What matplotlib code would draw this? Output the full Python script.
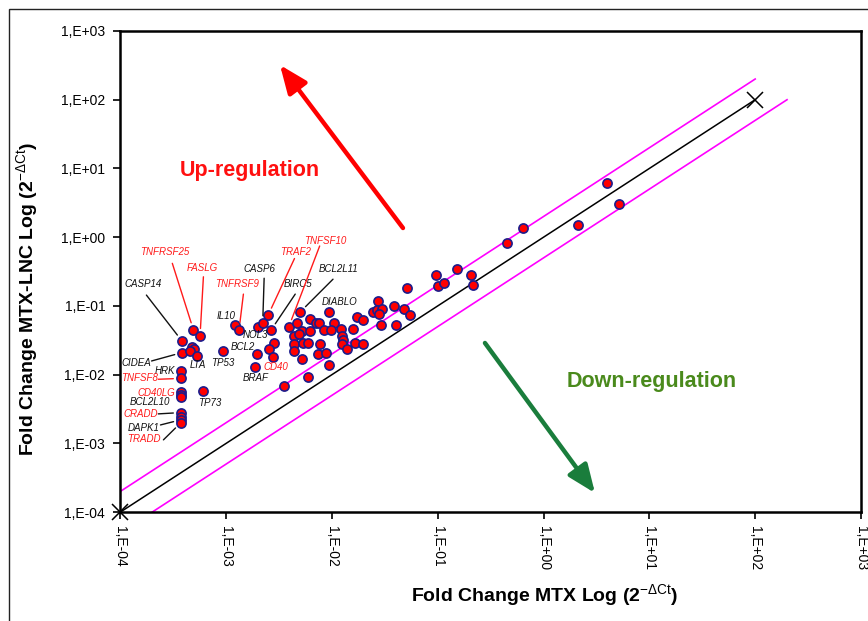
import numpy as np
import matplotlib
matplotlib.use('Agg')
import matplotlib.pyplot as plt
from matplotlib.ticker import FixedLocator, FuncFormatter, NullLocator
from matplotlib.patches import Rectangle

plt.rcParams['font.family'] = ['Liberation Sans', 'DejaVu Sans']
plt.rcParams['mathtext.fontset'] = 'custom'
plt.rcParams['mathtext.rm'] = 'Liberation Sans'
plt.rcParams['mathtext.it'] = 'Liberation Sans:italic'
plt.rcParams['mathtext.bf'] = 'Liberation Sans:bold'

# fold change (2^-dCt) per gene: MTX alone vs MTX-LNC
fc_mtx = [
    3.82e-4, 3.82e-4, 4.90e-4, 5.65e-4, 4.72e-4, 4.96e-4, 4.50e-4, 5.26e-4,
    3.73e-4, 3.73e-4, 3.73e-4, 3.73e-4, 3.73e-4, 3.73e-4, 3.73e-4, 3.73e-4,
    3.73e-4, 6.03e-4, 9.23e-4, 1.21e-3, 1.32e-3, 1.98e-3, 2.21e-3, 2.49e-3,
    2.65e-3, 2.83e-3, 2.54e-3, 2.75e-3, 1.94e-3, 1.87e-3, 3.52e-3, 3.90e-3,
    4.65e-3, 4.99e-3, 6.21e-3, 7.07e-3, 7.60e-3, 9.39e-3, 1.05e-2, 8.48e-3,
    9.81e-3, 5.16e-3, 6.21e-3, 4.38e-3, 4.83e-3, 4.33e-3, 4.38e-3, 5.36e-3,
    5.98e-3, 7.62e-3, 7.34e-3, 8.74e-3, 5.17e-3, 9.39e-3, 5.94e-3, 1.21e-2,
    1.24e-2, 1.28e-2, 1.23e-2, 1.38e-2, 1.59e-2, 1.72e-2, 1.97e-2, 1.65e-2,
    1.98e-2, 2.70e-2, 2.46e-2, 2.64e-2, 2.95e-2, 2.79e-2, 3.83e-2, 4.74e-2,
    5.48e-2, 2.91e-2, 3.98e-2, 5.10e-2, 9.55e-2, 9.98e-2, 1.14e-1, 1.52e-1,
    2.07e-1, 2.16e-1, 4.50e-1, 6.38e-1, 2.13, 3.98, 5.11,
]
fc_mtx_lnc = [
    0.0307, 0.0209, 0.0444, 0.0363, 0.0254, 0.0235, 0.0220, 0.0188,
    0.0114, 0.0088, 0.0055, 0.0051, 0.0047, 0.0028, 0.0024, 0.0022,
    0.0020, 0.0058, 0.0220, 0.0525, 0.0444, 0.0496, 0.0556, 0.0735,
    0.0444, 0.0290, 0.0235, 0.0178, 0.0199, 0.0129, 0.0068, 0.0496,
    0.0556, 0.0812, 0.0653, 0.0556, 0.0556, 0.0812, 0.0556, 0.0444,
    0.0444, 0.0430, 0.0425, 0.0359, 0.0389, 0.0278, 0.0224, 0.0290,
    0.0290, 0.0278, 0.0199, 0.0208, 0.0171, 0.0136, 0.0093, 0.0467,
    0.0370, 0.0323, 0.0283, 0.0235, 0.0467, 0.0680, 0.0621, 0.0290,
    0.0276, 0.1183, 0.0826, 0.0884, 0.0891, 0.0773, 0.1007, 0.0892,
    0.0731, 0.0525, 0.0525, 0.1816, 0.280, 0.1922, 0.2127, 0.349,
    0.281, 0.2009, 0.829, 1.34, 1.49, 6.13, 3.03,
]

# gene name -> index of its point, for the names joined by a leader line
leader_genes = {
    'TNFRSF25': 2, 'FASLG': 3, 'CASP14': 0, 'TNFRSF9': 20, 'CASP6': 22,
    'TRAF2': 23, 'TNFSF10': 31, 'BIRC5': 24, 'BCL2L11': 33, 'CIDEA': 1,
    'TNFSF8': 9, 'CRADD': 13, 'DAPK1': 15, 'TRADD': 16,
}
red_genes = ['TNFRSF25', 'FASLG', 'TNFRSF9', 'TRAF2', 'TNFSF10', 'TNFSF8',
             'CD40LG', 'CRADD', 'TRADD', 'CD40']
red_leaders = ['TNFRSF25', 'FASLG', 'TNFRSF9', 'TRAF2', 'TNFSF10', 'TNFSF8']

diag_range = [1e-4, 1e2]
fold_cut = 2.0
decades = np.arange(-4, 4)

# label placement (axes fraction): text centre, leader start
label_pos = {
    'TNFRSF25': (0.060, 0.541), 'FASLG': (0.111, 0.507), 'CASP14': (0.031, 0.473),
    'TNFRSF9': (0.158, 0.473), 'CASP6': (0.187, 0.506), 'TRAF2': (0.236, 0.541),
    'TNFSF10': (0.276, 0.564), 'BIRC5': (0.240, 0.473), 'BCL2L11': (0.294, 0.505),
    'DIABLO': (0.296, 0.437), 'CIDEA': (0.022, 0.310), 'HRK': (0.060, 0.294),
    'TNFSF8': (0.026, 0.278), 'CD40LG': (0.049, 0.248), 'BCL2L10': (0.040, 0.229),
    'CRADD': (0.027, 0.204), 'DAPK1': (0.031, 0.175), 'TRADD': (0.031, 0.151),
    'LTA': (0.104, 0.306), 'TP53': (0.138, 0.310), 'TP73': (0.120, 0.227),
    'IL10': (0.143, 0.408), 'NOL3': (0.182, 0.367), 'BCL2': (0.165, 0.343),
    'BRAF': (0.182, 0.279), 'CD40': (0.210, 0.302),
}
leader_start = {
    'TNFRSF25': (0.070, 0.517), 'FASLG': (0.112, 0.489), 'CASP14': (0.035, 0.451),
    'TNFRSF9': (0.166, 0.453), 'CASP6': (0.194, 0.486), 'TRAF2': (0.235, 0.527),
    'TNFSF10': (0.269, 0.553), 'BIRC5': (0.236, 0.453), 'BCL2L11': (0.287, 0.484),
    'CIDEA': (0.042, 0.314), 'TNFSF8': (0.051, 0.276), 'CRADD': (0.051, 0.204),
    'DAPK1': (0.054, 0.181), 'TRADD': (0.058, 0.150),
}

fig = plt.figure(figsize=(8.68, 6.21), dpi=100)
ax = fig.add_axes([0.1388, 0.1755, 0.8531, 0.7746])
ax.set_xscale('log')
ax.set_yscale('log')
ax.set_xlim(1e-4, 1e3)
ax.set_ylim(1e-4, 1e3)

# identity line and 2-fold limits
ax.plot(diag_range, diag_range, color='black', lw=1.1, marker='x', ms=11,
        mew=1.1, clip_on=False, zorder=3)
up = np.array(diag_range)
ax.plot(up, up * fold_cut, color='#ff00ff', lw=1.2, zorder=2)
ax.plot(up * fold_cut, up, color='#ff00ff', lw=1.2, zorder=2)

ax.plot(fc_mtx, fc_mtx_lnc, 'o', ms=6.6, mfc='#ff0000', mec='#1c1c8c', mew=1.2,
        ls='none', zorder=4)

# gene labels
for name, (tx, ty) in label_pos.items():
    col = '#ff1a1a' if name in red_genes else '#111111'
    ax.text(tx, ty, name, transform=ax.transAxes, fontsize=7, style='italic',
            color=col, ha='center', va='center', zorder=5)
for name, idx in leader_genes.items():
    col = '#ff1a1a' if name in red_leaders else '#111111'
    ax.annotate('', xy=(fc_mtx[idx], fc_mtx_lnc[idx]), xycoords='data',
                xytext=leader_start[name], textcoords='axes fraction',
                arrowprops=dict(arrowstyle='-', color=col, lw=1.0,
                                shrinkA=0, shrinkB=5.5), zorder=5)

# direction arrows
ax.annotate('', xy=(0.2154, 0.9293), xytext=(0.3815, 0.5904),
            xycoords='axes fraction',
            arrowprops=dict(arrowstyle='-|>,head_length=0.85,head_width=0.35',
                            mutation_scale=20, lw=3.2, color='#ff0000',
                            shrinkA=0, shrinkB=0))
ax.annotate('', xy=(0.6408, 0.0395), xytext=(0.4922, 0.3514),
            xycoords='axes fraction',
            arrowprops=dict(arrowstyle='-|>,head_length=0.85,head_width=0.35',
                            mutation_scale=20, lw=3.2, color='#1a7d3c',
                            shrinkA=0, shrinkB=0))
ax.text(0.1749, 0.709, 'Up-regulation', transform=ax.transAxes, fontsize=15.5,
        fontweight='bold', color='#ff1010', ha='center', va='center')
ax.text(0.7178, 0.2723, 'Down-regulation', transform=ax.transAxes,
        fontsize=15.5, fontweight='bold', color='#4a8a1c', ha='center',
        va='center')

# axes styling
ticks = 10.0 ** decades
fmt = FuncFormatter(lambda v, p: '1,E%+03d' % int(round(np.log10(v))))
for axis in (ax.xaxis, ax.yaxis):
    axis.set_major_locator(FixedLocator(ticks))
    axis.set_minor_locator(NullLocator())
    axis.set_major_formatter(fmt)
ax.tick_params(axis='both', direction='out', length=5, width=1.2,
               labelsize=10, color='black')
ax.tick_params(axis='y', pad=6)
ax.tick_params(axis='x', pad=5)
for lab in ax.get_xticklabels():
    lab.set_rotation(-90)
for sp in ax.spines.values():
    sp.set_linewidth(1.8)

ax.set_xlabel(r'Fold Change MTX Log (2$^{-\Delta\mathrm{Ct}}$)', fontsize=14,
              fontweight='bold')
ax.xaxis.set_label_coords(0.573, -0.145)
ax.set_ylabel(r'Fold Change MTX-LNC Log (2$^{-\Delta\mathrm{Ct}}$)',
              fontsize=14, fontweight='bold')
ax.yaxis.set_label_coords(-0.109, 0.443)

# outer chart frame
fig.patches.append(Rectangle((0.0105, -0.05), 1.2, 1.0363, transform=fig.transFigure,
                             fill=False, lw=1.0, ec='#222222'))

fig.savefig('out.png', dpi=100)
plt.close(fig)
